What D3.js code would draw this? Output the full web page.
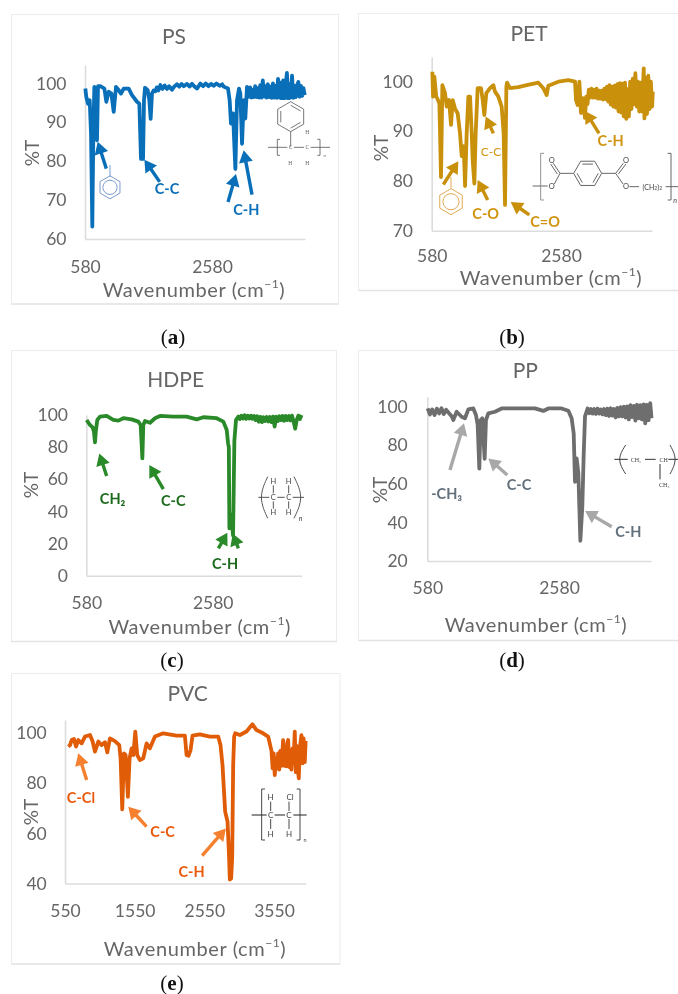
<!DOCTYPE html>
<html><head><meta charset="utf-8">
<script src="https://cdn.jsdelivr.net/npm/d3@7"></script>
<style>html,body{margin:0;padding:0;background:#fff}svg{display:block;filter:blur(0.5px)}</style>
</head><body><div id="chart"></div>
<script>
// ---------- DATA ----------
const polymers = ["PS","PET","HDPE","PP","PVC"];
const captions = ["a","b","c","d","e"];
const xLabel = "Wavenumber (cm";
const yLabel = "%T";

const psWave = [585,600,627,654,675,695,711,727,748,769,785,822,885,916,953,995,1032,1068,1110,1147,1189,1268,1320,1399,1436,1462,1494,1509,1525,1567,1593,1614,1635,1660,1688,1710,1735,1767,1800,1835,1872,1905,1950,1985,2029,2065,2100,2135,2187,2225,2265,2300,2344,2370,2397,2440,2480,2525,2565,2607,2650,2700,2740,2764,2832,2858,2879,2911,2948,2974,3005,3026,3053,3079,3105,3131,3160,3180,3200,3220,3240,3260,3280,3300,3320,3340,3360,3380,3400,3420,3440,3460,3480,3500,3520,3540,3560,3580,3600,3620,3640,3660,3680,3700,3720,3740,3760,3780,3800,3820,3840,3860,3880,3900,3920,3940,3960,3980,4000,4020,4040];
const psT = [98.7,96.6,94.8,95.7,87.1,63.2,87.1,99.1,98.3,85.4,99.3,99.3,98.7,95.3,97.9,97.4,92.7,99.1,98.3,97.4,98.7,98.7,97,95.3,94.8,80.6,80.6,95.7,98.9,98.3,95.7,90.9,97.4,98.2,98,99,98.2,99.6,98.6,99.5,98.6,99.3,98.4,99.2,99.8,99.2,99.9,99.3,99.9,99.2,99.9,99.3,98.7,99.3,100,99.3,100,99.3,99.9,99.4,100,99.4,99.8,99.2,98.7,95.7,89.7,92.3,78,95.7,98.7,97.4,84.5,95.7,91,99.1,96.6,99,96.4,98.4,96.5,99.3,96.5,98.8,96.4,99.6,96.4,100.8,96.6,99.3,96.4,99.8,96.5,99.2,96.3,100,96.4,99.4,96.3,101.2,96.4,100.2,96,100.8,96.2,99.6,102.7,96,99.8,96.4,102,96.3,99.4,96.5,99.6,100.4,96.6,99.4,96.8,98.8,97];

const petWave = [590,601,621,650,668,699,724,745,786,812,848,879,905,941,982,1018,1044,1075,1096,1121,1147,1173,1199,1214,1240,1260,1291,1343,1369,1394,1425,1482,1534,1559,1611,1662,1693,1714,1735,1745,1791,1920,2049,2230,2307,2358,2384,2539,2694,2797,2812,2838,2864,2889,2920,2951,2970,2990,3010,3030,3050,3070,3090,3110,3130,3150,3170,3190,3210,3230,3250,3270,3290,3310,3330,3350,3370,3390,3410,3430,3450,3470,3490,3510,3530,3550,3570,3590,3610,3630,3650,3670,3690,3710,3730,3750,3770,3790,3810,3830,3860,3870,3890,3910,3930,3950,3970,3990,4000];
const petT = [102,97,101,97,96.6,95.6,80.8,99.3,97.7,95,96.3,91.3,96.3,94.6,93.6,89.6,85,87,79,89.6,97,97,89.6,84.2,79.5,89.6,98.7,98.7,96.3,93.3,97.7,98.7,99.3,98,97,95,89.6,75.2,99,99.8,98.7,98.9,99.3,99.8,98.7,97.3,99.2,100,100.3,100,96.3,95.3,100,93.7,96.7,92.7,97,95.5,98.4,96.8,98.6,96.8,98.4,96.8,98.6,96.6,98.2,96.6,98.2,96.4,98.6,96.5,99,96,99.3,95.4,99,95,99.2,94.8,99.5,94,99.7,93.8,99.6,93,99.8,92.5,98.5,93,100,94.5,100.6,95.5,101.7,95,100,94,99.8,94,102.7,92.6,100.8,93.5,101.2,94.5,100,95,98];

const hdpeWave = [585,638,680,701,717,733,754,796,902,1007,1087,1166,1298,1403,1440,1467,1482,1509,1588,1667,1746,1957,2168,2327,2432,2643,2749,2802,2823,2835,2844,2872,2902,2923,2949,2986,3010,3035,3060,3085,3110,3135,3160,3185,3210,3235,3260,3285,3310,3335,3360,3385,3410,3435,3460,3485,3510,3535,3560,3585,3610,3635,3660,3685,3710,3735,3760,3785,3810,3835,3860,3885,3910,3935,3960,3985];
const hdpeT = [96.9,93.8,92.3,89.6,83,90.7,96.9,99,99.4,96.9,96.5,98,97.3,95.9,93.8,73,93.8,96.3,95.2,98,99.4,99,99,97.3,98.6,98,95.9,90.7,82.4,80,29.5,38,25,84,97,99,97.5,99.5,97.8,99.8,97.6,99.6,97.8,99.6,97.6,99.4,96.8,99.2,95.8,98.8,95.6,98.6,96.2,98.8,96,98.8,95.6,99,92.8,99,96.2,99.2,96.8,99.4,96.4,99.4,96.8,99.4,96.6,99.6,96,91.5,97,99.6,97.5,100];

const ppWave = [585,620,655,690,725,760,795,830,865,900,950,975,1026,1101,1152,1203,1279,1319,1345,1370,1390,1415,1451,1471,1507,1608,1709,1861,2063,2215,2342,2418,2620,2722,2772,2803,2823,2848,2874,2904,2934,2954,2975,3015,3040,3065,3090,3115,3140,3165,3190,3215,3240,3265,3290,3315,3340,3365,3390,3415,3440,3465,3490,3515,3540,3565,3590,3615,3640,3665,3690,3715,3740,3765,3790,3815,3840,3865,3890,3915,3940,3965,3985];
const ppT = [99.1,96,98.6,95.7,99,96.5,99.2,96.2,98.4,97,95,93.1,97.4,94.8,94,98.6,99.1,95.7,90.5,67.9,93.1,94,73,93.1,96.5,97.4,99.1,99.1,99.1,99.1,97.8,99.1,99.1,97.9,94,86.2,61.1,73.2,65.5,30.5,48.2,74.1,95,99.1,96.6,98.8,96.4,98.8,96.2,99,96.4,98.6,96,98.8,95.6,99,95.2,99.2,95.4,98.8,94.4,99.4,95,99.8,95,100,94.4,100.2,93.4,100.8,94.6,100.4,92.8,101,94,100.8,93.4,101.2,91.4,101,93,101.8,94];

const pvcWave = [598,622,646,679,708,741,789,837,909,947,980,1028,1076,1124,1157,1195,1267,1329,1348,1372,1396,1420,1453,1477,1506,1530,1559,1587,1626,1673,1721,1769,1841,1960,2151,2271,2295,2323,2352,2381,2486,2629,2749,2782,2811,2830,2849,2883,2902,2916,2935,2950,2964,2978,2993,3060,3155,3241,3299,3394,3466,3514,3530,3545,3561,3580,3595,3609,3625,3640,3657,3670,3681,3700,3715,3729,3741,3753,3770,3785,3800,3815,3830,3848,3863,3875,3890,3906,3920,3944,3960,3975,3992,4004];
const pvcT = [94.7,95.3,97.3,97.7,94.7,97.3,96,98.7,99.3,96.7,92.7,96.7,95.3,96.4,92.4,98,96.9,95.3,90,69.6,92,91.3,74.6,90,94,91.3,100.7,91.3,89.3,90,96,94,98.7,100,99.1,99.1,91.3,91,93.3,99.1,99.6,98.7,98.7,95.3,87.3,78,68.7,64.7,52.7,41.6,42,50.7,87.3,98.7,100,99.3,100.7,103.6,101.3,100,98.7,93,86,92,83.3,90,86,92,85.5,93,87,92.5,97.3,87,92,86.8,96,97.3,86.5,93,85.5,94,88,100.7,84.5,95,86,82,94,99.3,88,98,88.5,97];

const psYTicks = [60,70,80,90,100];
const petYTicks = [70,80,90,100];
const hdpeYTicks = [0,20,40,60,80,100];
const ppYTicks = [20,40,60,80,100];
const pvcYTicks = [40,60,80,100];
const twoXTicks = [580,2580];
const pvcXTicks = [550,1550,2550,3550];

// ---------- LAYOUT ----------
const W = 678, H = 994, GREY = "#666", AXIS = "#dcdcdc", SANS = "Lato, 'Open Sans', sans-serif";
const svg = d3.select("#chart").append("svg").attr("width",W).attr("height",H).attr("viewBox",[0,0,W,H]);
svg.append("rect").attr("width",W).attr("height",H).attr("fill","#fff");

const panels = [
 {name:0,wave:psWave,t:psT,yTicks:psYTicks,xTicks:twoXTicks,color:"#0a6fb9",arrow:"#0a6fb9",label:"#0a6fb9",
  card:[11.5,14.5,327,289.5],px:[85,212],xRef:[580,2580],xEnd:305,py:[239,83.5],yRef:[60,100],yTop:65,
  titleXY:[174,35],xTitleXY:[194,288.5],yTitleX:31,yTitleY:153,xPad:21.4,yPad:18.5,
  arrows:[[916,78.1,780,85],[1756,74.7,1515,80.4],[2832,69.5,2958,76.7],[3210,71.4,3079,82.8]],
  labels:[["C-C",1872,73],["C-H",3121,67.6]],cap:[173,337]},
 {name:1,wave:petWave,t:petT,yTicks:petYTicks,xTicks:twoXTicks,color:"#c9900c",arrow:"#c9900c",label:"#d09410",
  card:[358.5,13.5,330,277],px:[431.7,561],xRef:[580,2580],xEnd:652,py:[230.7,81.7],yRef:[70,100],yTop:57,
  titleXY:[529,32],xTitleXY:[551,277],yTitleX:380,yTitleY:148,xPad:18.7,yPad:18.7,
  arrows:[[760,79.3,992,84],[1446,76.2,1291,80.2],[2090,73.2,1802,75.8],[1534,89.6,1415,93],[3168,89.6,2951,94.1]],
  labels:[["C-H",3348,88.1],["C-C",1498,86,true],["C-O",1415,73.4],["C=O",2333,71.8]],cap:[512,337]},
 {name:2,wave:hdpeWave,t:hdpeT,yTicks:hdpeYTicks,xTicks:twoXTicks,color:"#2a8a2a",arrow:"#2a8a2a",label:"#1c6a1c",
  card:[11.5,350.5,325,291],px:[86.3,212.7],xRef:[580,2580],xEnd:301.7,py:[575.7,415],yRef:[0,100],yTop:415,
  titleXY:[175.7,378],xTitleXY:[199.7,626],yTitleX:30.7,yTitleY:485,xPad:21,yPad:18.3,
  arrows:[[902,62,786,76.1],[1799,53.9,1577,68.9],[2670,17,2812,26.8],[2986,17,2897,26.3]],
  labels:[["CH₂",997,48.1],["C-C",1957,46.5],["C-H",2775,7.3]],cap:[172,660]},
 {name:3,wave:ppWave,t:ppT,yTicks:ppYTicks,xTicks:twoXTicks,color:"#6e6e6e",arrow:"#a8a8a8",label:"#62707c",
  card:[358.5,350.5,330,290],px:[427.3,559],xRef:[580,2580],xEnd:651,py:[561,406.7],yRef:[20,100],yTop:396.7,
  titleXY:[525.3,369],xTitleXY:[536,624],yTitleX:379,yTitleY:490,xPad:20.7,yPad:19.6,
  arrows:[[924,67.2,1137,91.4],[1795,64.6,1507,73.2],[3380,37.8,2975,45.9]],
  labels:[["-CH₃",874,55.1],["C-C",1972,59.9],["C-H",3633,35.2]],cap:[512,660]},
 {name:4,wave:pvcWave,t:pvcT,yTicks:pvcYTicks,xTicks:pvcXTicks,color:"#e05c06",arrow:"#f58030",label:"#e8590c",
  card:[11.5,673.5,328.5,290.5],px:[65,274],xRef:[550,3550],xEnd:305.7,py:[883.5,733.3],yRef:[40,100],yTop:720,
  titleXY:[187.7,692.7],xTitleXY:[195,947.7],yTitleX:30.7,yTitleY:812,xPad:20.7,yPad:18.3,
  arrows:[[861,81.3,741,92],[1721,62.7,1458,70.7],[2519,51.1,2859,62]],
  labels:[["C-Cl",779,74.3],["C-C",1951,60.9],["C-H",2366,44.9]],cap:[172,983]}
];

function arrowMark(g,x1,y1,x2,y2,color){
  const a=Math.atan2(y2-y1,x2-x1),len=Math.hypot(x2-x1,y2-y1),hl=12,hw=7,sw=1.7;
  const p=(d,o)=>[x1+Math.cos(a)*d-Math.sin(a)*o, y1+Math.sin(a)*d+Math.cos(a)*o];
  const pts=[p(0,sw),p(len-hl,sw),p(len-hl,hw),p(len,0),p(len-hl,-hw),p(len-hl,-sw),p(0,-sw)];
  g.append("polygon").attr("points",pts.map(q=>q.join(",")).join(" ")).attr("fill",color);
}
function chain(g,pts,color,w){ g.append("path").attr("d",d3.line()(pts)).attr("fill","none").attr("stroke",color).attr("stroke-width",w); }
function label(g,x,y,s,size,color,opts={}){
  return g.append("text").attr("x",x).attr("y",y).attr("text-anchor",opts.anchor||"middle").attr("dominant-baseline","central")
    .attr("font-family",opts.font||SANS).attr("font-size",size).attr("font-weight",opts.weight||400).attr("font-style",opts.style||"normal").attr("fill",color).text(s);
}
function hexagon(g,cx,cy,r,rot,color,w,inner){
  const v=d3.range(6).map(i=>[cx+r*Math.cos(rot+i*Math.PI/3),cy+r*Math.sin(rot+i*Math.PI/3)]);
  g.append("polygon").attr("points",v.map(q=>q.join(",")).join(" ")).attr("fill","none").attr("stroke",color).attr("stroke-width",w);
  if(inner==="circle") g.append("circle").attr("cx",cx).attr("cy",cy).attr("r",r*0.62).attr("fill","none").attr("stroke",color).attr("stroke-width",w);
  if(inner==="bonds") [0,2,4].forEach(i=>{
    const s=0.76,a=v[i],b=v[(i+1)%6],m=(q)=>[cx+(q[0]-cx)*s,cy+(q[1]-cy)*s];
    chain(g,[m(a),m(b)],color,w);
  });
}

panels.forEach((p,i)=>{
  const g=svg.append("g");
  g.append("rect").attr("x",p.card[0]).attr("y",p.card[1]).attr("width",p.card[2]).attr("height",p.card[3])
    .attr("fill","#fff").attr("stroke","#ececec").attr("stroke-width",1);
  g.append("line").attr("x1",p.card[0]).attr("x2",p.card[0]+p.card[2]).attr("y1",p.card[1]+p.card[3]).attr("y2",p.card[1]+p.card[3]).attr("stroke","#e4e4e4").attr("stroke-width",1.5);

  const pxPerX=(p.px[1]-p.px[0])/(p.xRef[1]-p.xRef[0]);
  const xEndVal=p.xRef[0]+(p.xEnd-p.px[0])/pxPerX;
  const x=d3.scaleLinear().domain([p.xRef[0],xEndVal]).range([p.px[0],p.xEnd]);
  const pxPerY=(p.py[1]-p.py[0])/(p.yRef[1]-p.yRef[0]);
  const yTopVal=p.yRef[0]+(p.yTop-p.py[0])/pxPerY;
  const y=d3.scaleLinear().domain([p.yRef[0],yTopVal]).range([p.py[0],p.yTop]);

  const styleAxis=a=>{
    a.selectAll("path").attr("stroke",AXIS).attr("stroke-width",1.6);
    a.selectAll("line").remove();
    a.selectAll("text").attr("font-family",SANS).attr("font-size",17.5).attr("fill",GREY);
  };
  g.append("g").attr("transform",`translate(0,${p.py[0]})`)
    .call(d3.axisBottom(x).tickValues(p.xTicks).tickFormat(d3.format("d")).tickSize(0).tickPadding(p.xPad)).call(styleAxis);
  g.append("g").attr("transform",`translate(${p.px[0]},0)`)
    .call(d3.axisLeft(y).tickValues(p.yTicks).tickSize(0).tickPadding(p.yPad)).call(styleAxis);

  const line=d3.line().x(d=>x(d)).y((d,k)=>y(p.t[k]));
  g.append("path").attr("d",line(p.wave)).attr("fill","none").attr("stroke",p.color).attr("stroke-width",3.8).attr("stroke-linejoin","round");

  label(g,p.titleXY[0],p.titleXY[1],polymers[i],21,GREY);
  const xt=label(g,p.xTitleXY[0],p.xTitleXY[1],xLabel,20,GREY).attr("letter-spacing",0.6);
  xt.append("tspan").attr("font-size",12).attr("dy",-6).text("−1");
  xt.append("tspan").attr("dy",6).text(")");
  g.append("text").attr("transform",`translate(${p.yTitleX},${p.yTitleY}) rotate(-90)`).attr("text-anchor","middle").attr("dominant-baseline","central")
    .attr("font-family",SANS).attr("font-size",19).attr("fill",GREY).text(yLabel);

  // structure / icons sit above the trace on white patches, in reference-crop units
  const off=[[0,0],[345,0],[0,340],[345,340],[0,665]][i];
  const Z=(zx,zy)=>[off[0]+zx/3,off[1]+zy/3];
  const s=g.append("g");
  const ink="#444";
  if(i===0){
    const a=Z(804,300);s.append("rect").attr("x",a[0]).attr("y",a[1]).attr("width",62).attr("height",62).attr("fill","#fff");
    const c=Z(872,350);hexagon(s,c[0],c[1],15,Math.PI/6,"#555",.8,"bonds");
    chain(s,[Z(872,395),Z(872,440)],"#555",.8);
    chain(s,[Z(804,442),Z(862,442)],"#555",.8);chain(s,[Z(882,442),Z(912,442)],"#555",.8);chain(s,[Z(932,442),Z(990,442)],"#555",.8);
    [[872,442,"C"],[922,442,"C"],[922,396,"H"],[871,490,"H"],[922,490,"H"]].forEach(d=>{const q=Z(d[0],d[1]);label(s,q[0],q[1],d[2],5.5,"#666",{font:"'Liberation Serif',serif"});});
    chain(s,[Z(840,418),Z(832,418),Z(832,466),Z(840,466)],"#555",.8);
    chain(s,[Z(952,418),Z(960,418),Z(960,466),Z(952,466)],"#555",.8);
    let q=Z(974,465);label(s,q[0],q[1],"n",4.5,"#666");
    const r=Z(330,562);hexagon(s,r[0],r[1],11.5,Math.PI/6,"#6d8fc6",.9,"circle");
    chain(s,[Z(330,530),Z(330,495)],"#6d8fc6",.9);
  }
  if(i===1){
    const c=Z(728,520);hexagon(s,c[0],c[1],14,0,"#555",.9,"bonds");
    chain(s,[Z(563,558),Z(608,558)],"#555",.9);
    chain(s,[Z(628,552),Z(645,520),Z(685,520)],"#555",.9);
    chain(s,[Z(645,520),Z(625,490)],"#555",.9);chain(s,[Z(637,522),Z(617,492)],"#555",.9);
    chain(s,[Z(771,520),Z(812,520),Z(834,552)],"#555",.9);
    chain(s,[Z(812,520),Z(835,490)],"#555",.9);chain(s,[Z(820,522),Z(843,492)],"#555",.9);
    chain(s,[Z(853,560),Z(882,560)],"#555",.9);chain(s,[Z(962,560),Z(1000,560)],"#555",.9);
    [[620,558,"O"],[620,482,"O"],[843,558,"O"],[843,482,"O"]].forEach(d=>{const q=Z(d[0],d[1]);label(s,q[0],q[1],d[2],7.5,"#444");});
    let q=Z(922,560);const t=label(s,q[0],q[1],"(CH",7,"#444");t.append("tspan").attr("font-size",5).attr("dy",1.5).text("2");t.append("tspan").attr("dy",-1.5).text(")");t.append("tspan").attr("font-size",5).attr("dy",1.5).text("2");
    chain(s,[Z(597,460),Z(587,460),Z(587,600),Z(597,600)],"#888",.9);
    chain(s,[Z(968,460),Z(978,460),Z(978,600),Z(968,600)],"#555",.9);
    q=Z(990,600);label(s,q[0],q[1],"n",7,"#444",{style:"italic"});
    const r=Z(318,605);hexagon(s,r[0],r[1],13,Math.PI/6,"#e2aa52",1,"circle");
    chain(s,[Z(318,565),Z(318,532)],"#e2aa52",1);
  }
  if(i===2){
    chain(s,[Z(775,472),Z(808,472)],ink,.9);chain(s,[Z(832,472),Z(854,472)],ink,.9);chain(s,[Z(878,472),Z(912,472)],ink,.9);
    [[820,472,"C"],[866,472,"C"],[820,425,"H"],[866,425,"H"],[820,517,"H"],[866,517,"H"]].forEach(d=>{const q=Z(d[0],d[1]);label(s,q[0],q[1],d[2],7.5,ink);});
    chain(s,[Z(820,436),Z(820,460)],ink,.9);chain(s,[Z(866,436),Z(866,460)],ink,.9);chain(s,[Z(820,484),Z(820,506)],ink,.9);chain(s,[Z(866,484),Z(866,506)],ink,.9);
    s.append("path").attr("d",d3.line().curve(d3.curveBasis)([Z(803,410),Z(775,472),Z(803,535)])).attr("fill","none").attr("stroke",ink).attr("stroke-width",.9);
    s.append("path").attr("d",d3.line().curve(d3.curveBasis)([Z(882,410),Z(912,472),Z(882,535)])).attr("fill","none").attr("stroke",ink).attr("stroke-width",.9);
    const q=Z(902,535);label(s,q[0],q[1],"n",7,ink,{style:"italic"});
  }
  if(i===3){
    chain(s,[Z(808,358),Z(848,358)],"#333",1);chain(s,[Z(900,358),Z(932,358)],"#333",1);chain(s,[Z(970,358),Z(999,358)],"#333",1);
    chain(s,[Z(945,372),Z(945,418)],"#333",1);
    let q=Z(873,359);label(s,q[0],q[1],"CH₂",6,"#444",{font:"'Liberation Serif',serif"});
    q=Z(956,359);label(s,q[0],q[1],"CH",6,"#444",{font:"'Liberation Serif',serif"});
    q=Z(958,435);label(s,q[0],q[1],"CH₃",6,"#444",{font:"'Liberation Serif',serif"});
    s.append("path").attr("d",d3.line().curve(d3.curveBasis)([Z(842,315),Z(815,358),Z(842,402)])).attr("fill","none").attr("stroke","#333").attr("stroke-width",.9);
    s.append("path").attr("d",d3.line().curve(d3.curveBasis)([Z(975,315),Z(998,358),Z(975,402)])).attr("fill","none").attr("stroke","#333").attr("stroke-width",.9);
  }
  if(i===4){
    chain(s,[Z(755,450),Z(800,450)],"#333",1.1);chain(s,[Z(824,450),Z(855,450)],"#333",1.1);chain(s,[Z(880,450),Z(920,450)],"#333",1.1);
    [[812,450,"C"],[867,450,"C"],[812,395,"H"],[870,395,"Cl"],[812,507,"H"],[867,507,"H"]].forEach(d=>{const q=Z(d[0],d[1]);label(s,q[0],q[1],d[2],8,"#444");});
    chain(s,[Z(812,410),Z(812,438)],"#333",.9);chain(s,[Z(867,410),Z(867,438)],"#333",.9);chain(s,[Z(812,462),Z(812,492)],"#333",.9);chain(s,[Z(867,462),Z(867,492)],"#333",.9);
    chain(s,[Z(795,372),Z(785,372),Z(785,525),Z(795,525)],"#333",.9);
    chain(s,[Z(890,372),Z(900,372),Z(900,525),Z(890,525)],"#333",.9);
    const q=Z(915,525);label(s,q[0],q[1],"n",5.5,"#444");
  }

  p.arrows.forEach(a=>arrowMark(g,x(a[0]),y(a[1]),x(a[2]),y(a[3]),p.arrow));
  p.labels.forEach(l=>label(g,x(l[1]),y(l[2]),l[0],l[3]?12:14.5,p.label,{weight:l[3]?400:700}));

  const cap=label(svg,p.cap[0],p.cap[1],"(",21,"#111",{font:"'Liberation Serif',serif"});
  cap.append("tspan").attr("font-weight",700).text(captions[i]);
  cap.append("tspan").text(")");
});
</script></body></html>
